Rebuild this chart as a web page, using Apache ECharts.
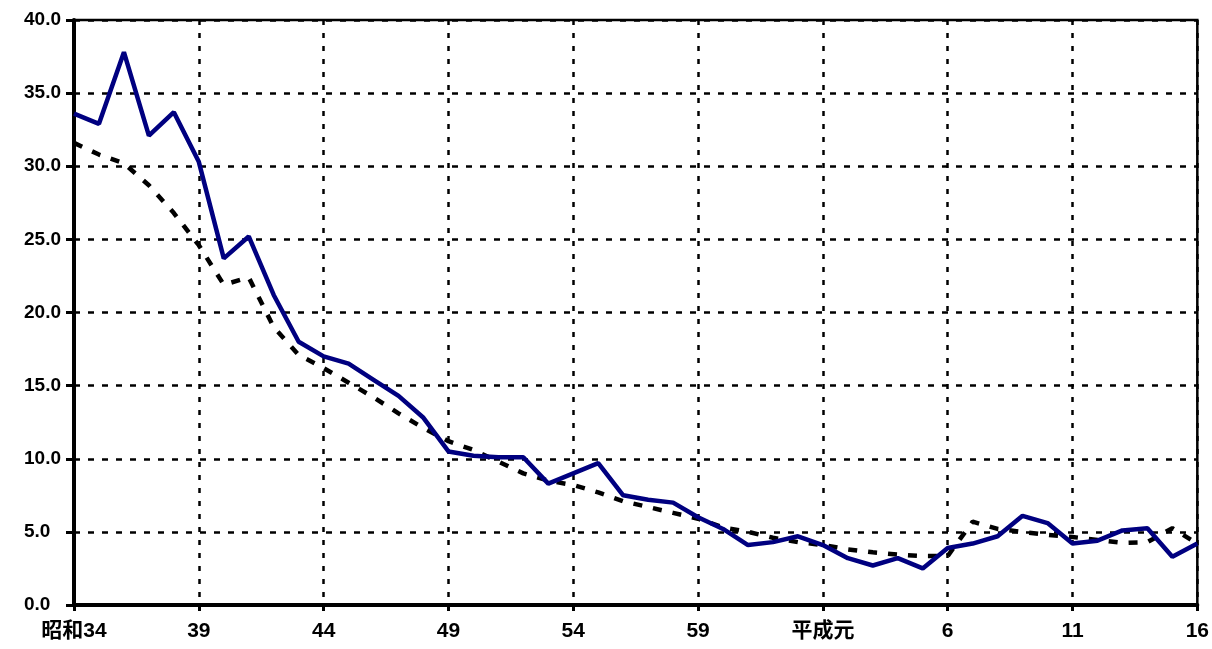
<!DOCTYPE html>
<html>
<head>
<meta charset="utf-8">
<script src="https://cdn.jsdelivr.net/npm/echarts@6/dist/echarts.min.js"></script>
<style>
html,body{margin:0;padding:0;background:#fff;}
#chart{width:1212px;height:649px;}
</style>
</head>
<body>
<div id="chart"></div>
<script>
// Years 昭和34 (1959) .. 平成16 (2004)
const years = [
  '昭和34','35','36','37','38','39','40','41','42','43',
  '44','45','46','47','48','49','50','51','52','53',
  '54','55','56','57','58','59','60','61','62','63',
  '平成元','2','3','4','5','6','7','8','9','10',
  '11','12','13','14','15','16'
];
// solid navy series
const seriesA = [
  33.6, 32.9, 37.8, 32.1, 33.7, 30.3, 23.7, 25.2, 21.2, 18.0,
  17.0, 16.5, 15.4, 14.3, 12.8, 10.5, 10.2, 10.1, 10.1, 8.3,
  9.0, 9.7, 7.5, 7.2, 7.0, 6.0, 5.2, 4.1, 4.3, 4.7,
  4.1, 3.2, 2.7, 3.2, 2.5, 3.9, 4.2, 4.7, 6.1, 5.6,
  4.2, 4.4, 5.1, 5.25, 3.3, 4.2
];
// dashed black series
const seriesB = [
  31.6, 30.8, 30.2, 28.7, 26.8, 24.6, 21.9, 22.4, 19.0, 17.1,
  16.2, 15.2, 14.2, 13.1, 12.1, 11.2, 10.6, 9.8, 9.0, 8.5,
  8.2, 7.7, 7.1, 6.7, 6.3, 5.9, 5.3, 5.0, 4.6, 4.3,
  4.1, 3.8, 3.6, 3.45, 3.35, 3.35, 5.7, 5.2, 5.0, 4.8,
  4.65, 4.45, 4.25, 4.3, 5.25, 4.2
];
const yTicks = [0, 5, 10, 15, 20, 25, 30, 35, 40];

const chart = echarts.init(document.getElementById('chart'), null, {renderer: 'canvas'});
const fontFam = '"Liberation Sans", "Noto Sans CJK JP", sans-serif';
chart.setOption({
  animation: false,
  backgroundColor: '#ffffff',
  grid: {
    left: 74, right: 6, top: 20, bottom: 44,
    show: true, borderColor: '#000', borderWidth: 2.5, backgroundColor: 'transparent'
  },
  xAxis: {
    type: 'category',
    data: years,
    boundaryGap: false,
    axisLine: {show: true, lineStyle: {color: '#000', width: 4}},
    axisTick: {show: true, interval: 4, length: 6, lineStyle: {color: '#000', width: 3}},
    axisLabel: {
      interval: 4, margin: 16,
      color: '#000', fontWeight: 'bold', fontSize: 21, fontFamily: fontFam
    },
    splitLine: {show: true, interval: 4, lineStyle: {color: '#000', width: 2.5, type: [5, 8]}}
  },
  yAxis: {
    type: 'value',
    min: yTicks[0], max: yTicks[yTicks.length - 1], interval: 5,
    axisLine: {show: true, lineStyle: {color: '#000', width: 4}},
    axisTick: {show: true, length: 8, lineStyle: {color: '#000', width: 3}},
    axisLabel: {
      margin: 50, align: 'left', color: '#000', fontWeight: 'bold', fontSize: 19, fontFamily: fontFam,
      formatter: v => v.toFixed(1)
    },
    splitLine: {show: true, lineStyle: {color: '#000', width: 2.5, type: [6, 8]}}
  },
  series: [
    {
      type: 'line', data: seriesB, symbol: 'none', z: 2,
      lineStyle: {color: '#000', width: 4.5, type: [9, 11]}
    },
    {
      type: 'line', data: seriesA, symbol: 'none', z: 3,
      lineStyle: {color: '#000080', width: 4.5}
    }
  ]
});
</script>
</body>
</html>
